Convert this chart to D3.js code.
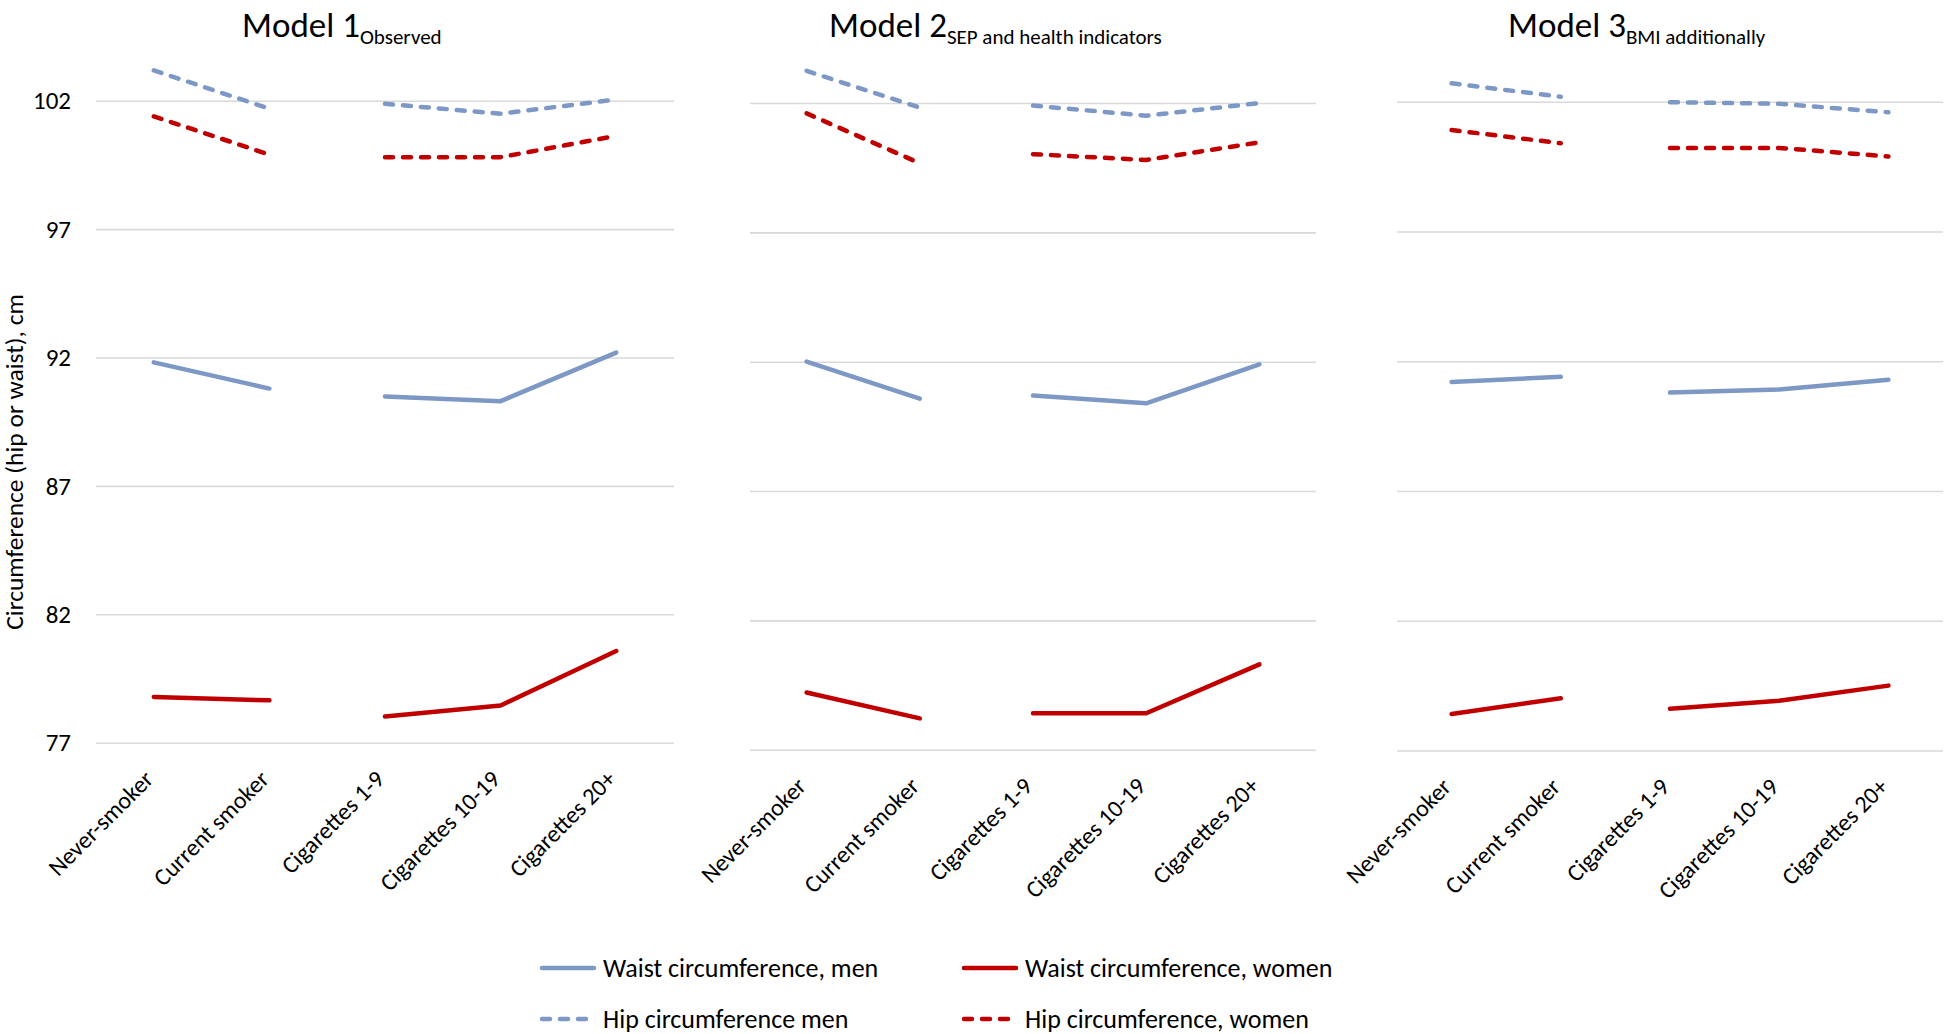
<!DOCTYPE html>
<html>
<head>
<meta charset="utf-8">
<script src="https://cdnjs.cloudflare.com/ajax/libs/d3/7.8.5/d3.min.js"></script>
<style>
  body { margin: 0; background: #fff; }
  svg text { font-family: Carlito, Calibri, Lato, "Open Sans", sans-serif; fill: #000; }
  .grid line { stroke: #d9d9d9; stroke-width: 1.6; }
  .grid path { display: none; }
</style>
</head>
<body>
<svg id="chart" width="1946" height="1034"></svg>
<script>
// data
var categories = ["Never-smoker", "Current smoker", "Cigarettes 1-9", "Cigarettes 10-19", "Cigarettes 20+"];
var segment = [0, 0, 1, 1, 1];   // line breaks between current smoker and 1-9
var modelNames = ["Model 1", "Model 2", "Model 3"];
var modelSubs = ["Observed", "SEP and health indicators", "BMI additionally"];
var yTicks = [77, 82, 87, 92, 97, 102];

var hipMen     = [[103.18, 101.69, 101.88, 101.49, 102.05],
                  [103.24, 101.82, 101.90, 101.51, 102.00],
                  [102.71, 102.19, 101.98, 101.92, 101.59]];
var hipWomen   = [[101.39, 99.90, 99.80, 99.80, 100.63],
                  [101.60, 99.67, 100.02, 99.80, 100.48],
                  [100.91, 100.40, 100.22, 100.22, 99.89]];
var waistMen   = [[91.81, 90.79, 90.48, 90.30, 92.19],
                  [92.00, 90.57, 90.69, 90.39, 91.90],
                  [91.20, 91.40, 90.79, 90.91, 91.29]];
var waistWomen = [[78.78, 78.65, 78.02, 78.45, 80.57],
                  [79.21, 78.21, 78.41, 78.41, 80.30],
                  [78.41, 79.01, 78.61, 78.92, 79.50]];

var seriesNames = ["Waist circumference, men", "Waist circumference, women",
                   "Hip circumference men", "Hip circumference, women"];
var seriesData = [waistMen, waistWomen, hipMen, hipWomen];

var blue = "#7d98c4", red = "#c00000";
var seriesColor = [blue, red, blue, red];
var seriesDash = [null, null, "8,10", "8,10"];

// panel layout (three separate charts side by side)
var panels = [
  {x0: 96,  x1: 674,  yTop: 100.7, yBot: 742.7, titleX: 242},
  {x0: 750, x1: 1316, yTop: 103,   yBot: 749.7, titleX: 829},
  {x0: 1397, x1: 1943, yTop: 101.7, yBot: 750.5, titleX: 1508}
];

var svg = d3.select("#chart");

panels.forEach(function(p, m) {
  var x = d3.scaleBand().domain(categories).range([p.x0, p.x1]).padding(0);
  var y = d3.scaleLinear().domain([77, 102]).range([p.yBot, p.yTop]);
  var cx = function(i) { return x(categories[i]) + x.bandwidth() / 2; };

  var g = svg.append("g");

  g.append("g")
      .attr("class", "grid")
      .attr("transform", "translate(" + p.x0 + ",0)")
      .call(d3.axisLeft(y).tickValues(yTicks).tickSize(-(p.x1 - p.x0)).tickFormat(""));

  if (m == 0) {
    g.selectAll(".ylab")
      .data(yTicks)
      .enter().append("text")
      .attr("class", "ylab")
      .attr("x", 71)
      .attr("y", function(d) { return y(d); })
      .attr("dy", "0.35em")
      .attr("text-anchor", "end")
      .attr("font-size", 25)
      .text(function(d) { return d; });

    g.append("text")
      .attr("transform", "translate(23," + 462 + ") rotate(-90)")
      .attr("text-anchor", "middle")
      .attr("font-size", 25.5)
      .text("Circumference (hip or waist), cm");
  }

  // category labels, rotated
  g.selectAll(".xlab")
    .data(categories)
    .enter().append("text")
    .attr("class", "xlab")
    .attr("transform", function(d, i) { return "translate(" + (cx(i) - 5) + "," + (p.yBot + 32) + ") rotate(-45)"; })
    .attr("text-anchor", "end")
    .attr("dy", "0.35em")
    .attr("font-size", 24)
    .text(function(d) { return d; });

  // title with subscript
  var t = g.append("text")
    .attr("x", p.titleX)
    .attr("y", 37)
    .attr("font-size", 35);
  t.append("tspan").text(modelNames[m]);
  t.append("tspan").attr("font-size", 21).attr("dy", 7).text(modelSubs[m]);

  var line = d3.line()
    .x(function(d) { return cx(d.i); })
    .y(function(d) { return y(d.v); });

  seriesData.forEach(function(s, k) {
    var pts = s[m].map(function(v, i) { return {i: i, v: v, seg: segment[i]}; });
    var groups = d3.groups(pts, function(d) { return d.seg; });
    groups.forEach(function(gr) {
      g.append("path")
        .datum(gr[1])
        .attr("d", line)
        .attr("fill", "none")
        .attr("stroke", seriesColor[k])
        .attr("stroke-width", 4.5)
        .attr("stroke-linecap", "round")
        .attr("stroke-linejoin", "round")
        .attr("stroke-dasharray", seriesDash[k]);
    });
  });
});

// legend
var legX = [540, 962], legY = [968, 1019];
var leg = svg.selectAll(".leg")
  .data(seriesNames)
  .enter().append("g")
  .attr("class", "leg")
  .attr("transform", function(d, i) { return "translate(" + legX[i % 2] + "," + legY[Math.floor(i / 2)] + ")"; });

leg.append("line")
  .attr("x1", 2).attr("x2", 54)
  .attr("stroke", function(d, i) { return seriesColor[i]; })
  .attr("stroke-width", 4.5)
  .attr("stroke-linecap", "round")
  .attr("stroke-dasharray", function(d, i) { return seriesDash[i]; });

leg.append("text")
  .attr("x", 63)
  .attr("dy", "0.35em")
  .attr("font-size", 26)
  .text(function(d) { return d; });
</script>
</body>
</html>
